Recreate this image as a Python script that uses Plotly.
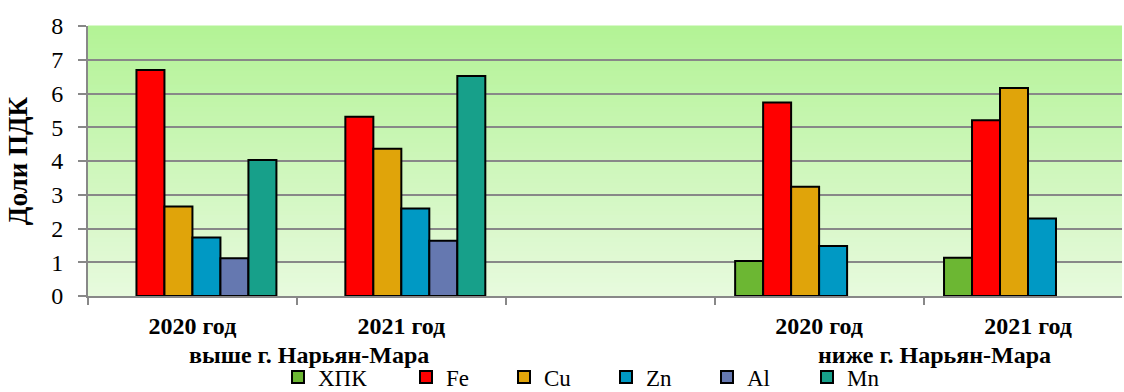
import plotly.graph_objects as go

# Category slots along the x axis (middle slot is an empty spacer)
slots = [0, 1, 2, 3, 4]
year_labels = ["2020 год", "2021 год", "2020 год", "2021 год"]
year_slots = [0, 1, 3, 4]
site_labels = ["выше г. Нарьян-Мара", "ниже г. Нарьян-Мара"]
site_centers = [0.56, 3.55]

# Concentrations in fractions of MPC (ПДК)
khpk = [None, None, None, 1.04, 1.13]
fe = [6.70, 5.31, None, 5.73, 5.21]
cu = [2.65, 4.36, None, 3.24, 6.16]
zn = [1.73, 2.59, None, 1.48, 2.30]
al = [1.12, 1.64, None, None, None]
mn = [4.03, 6.52, None, None, None]

series = [
    ("ХПК", khpk, "#6cb733"),
    ("Fe", fe, "#ff0000"),
    ("Cu", cu, "#e0a40a"),
    ("Zn", zn, "#0099c4"),
    ("Al", al, "#6578b0"),
    ("Mn", mn, "#17a08a"),
]

y_ticks = [0, 1, 2, 3, 4, 5, 6, 7, 8]

FONT = "Liberation Serif, Times New Roman, serif"
GRID = "#888888"
W, H = 1124, 392
M_T, M_B = 26, 96
PLOT_H = H - M_T - M_B

# Left edge (px) of each legend entry along the bottom row
legend_left = [278, 406, 504, 606, 707, 807]

fig = go.Figure()
legend_layouts = {}
for i, (name, vals, color) in enumerate(series):
    lg = "legend" if i == 0 else "legend%d" % (i + 1)
    fig.add_trace(go.Bar(
        name=name, x=slots, y=vals, legend=lg,
        marker=dict(color=color, line=dict(color="black", width=2)),
    ))
    legend_layouts[lg] = dict(
        orientation="h", xref="container", yref="container",
        x=legend_left[i] / W, xanchor="left", y=15 / H, yanchor="middle",
        font=dict(family=FONT, size=23, color="black"),
        bgcolor="rgba(0,0,0,0)", itemwidth=30,
    )

# Vertical green gradient behind the plot area
n_bands = 60
top = (179, 243, 150)
bottom = (231, 250, 221)
for i in range(n_bands):
    t = i / (n_bands - 1)
    c = tuple(round(bottom[k] + (top[k] - bottom[k]) * t) for k in range(3))
    fig.add_shape(
        type="rect", xref="x domain", yref="y domain",
        x0=0, x1=1, y0=i / n_bands, y1=(i + 1) / n_bands + 0.002,
        fillcolor="rgb(%d,%d,%d)" % c, line=dict(width=0), layer="below",
    )

for label, xc in zip(site_labels, site_centers):
    fig.add_annotation(
        x=xc, y=-(355 - (H - M_B)) / PLOT_H, xref="x", yref="paper",
        yanchor="middle", text=label, showarrow=False,
        font=dict(family=FONT, size=24, color="black", weight="bold"),
    )

fig.update_layout(
    width=W, height=H,
    margin=dict(l=88, r=2, t=M_T, b=M_B, autoexpand=False),
    paper_bgcolor="white", plot_bgcolor="#e6f9dc",
    barmode="group", bargap=0.196, bargroupgap=0,
    font=dict(family=FONT, size=22, color="black"),
    showlegend=True,
    xaxis=dict(
        range=[-0.5, 4.45], tickmode="array", tickvals=year_slots,
        ticktext=year_labels, ticks="", showgrid=False, zeroline=False,
        showline=True, linecolor=GRID, linewidth=2, automargin=False,
        tickfont=dict(family=FONT, size=24, color="black", weight="bold"),
        ticklabelstandoff=7,
        minor=dict(tickmode="linear", tick0=-0.5, dtick=1, ticks="outside",
                   ticklen=7, tickwidth=2, tickcolor=GRID, showgrid=False),
    ),
    yaxis=dict(
        range=[0, 8], tickmode="array", tickvals=y_ticks,
        showgrid=True, gridcolor=GRID, gridwidth=2, zeroline=False,
        showline=True, linecolor=GRID, linewidth=2, automargin=False,
        ticks="outside", ticklen=8, tickwidth=2, tickcolor=GRID,
        ticklabelstandoff=10,
        tickfont=dict(family=FONT, size=24, color="black"),
        title=dict(text="Доли ПДК", standoff=16,
                   font=dict(family=FONT, size=27, color="black", weight="bold")),
    ),
    **legend_layouts,
)

fig.write_html("out.html")
